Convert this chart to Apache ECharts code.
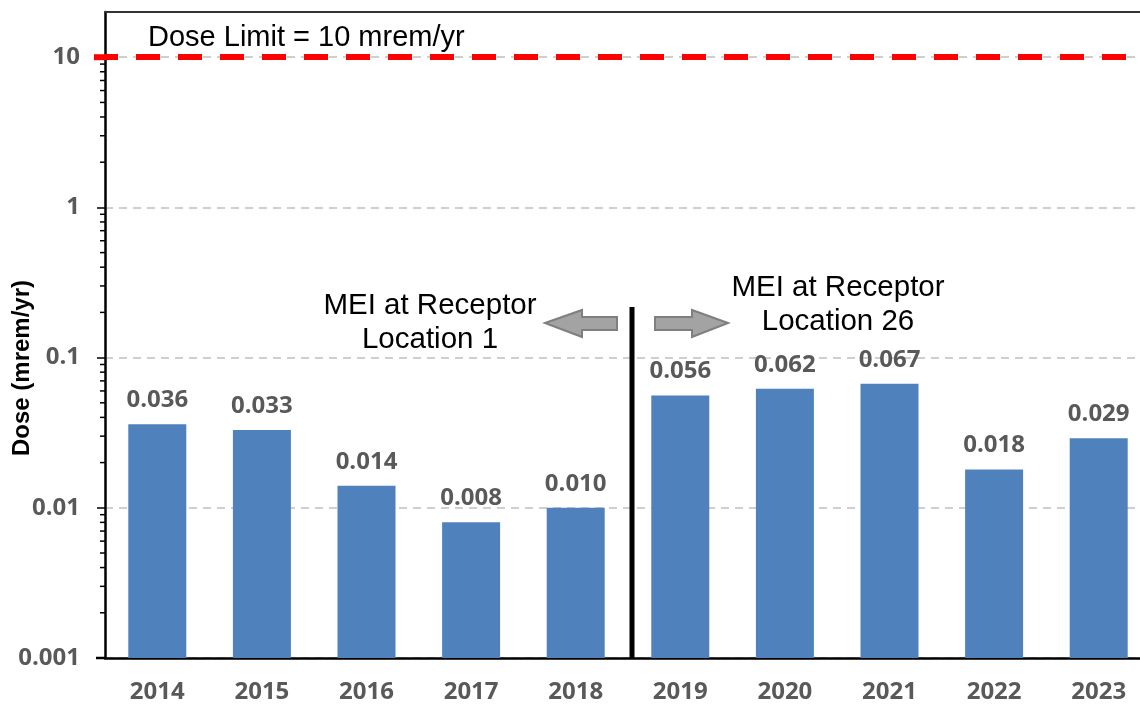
<!DOCTYPE html>
<html>
<head>
<meta charset="utf-8">
<script src="https://cdn.jsdelivr.net/npm/echarts@6/dist/echarts.min.js"></script>
<style>
  html, body { margin: 0; padding: 0; background: #fff; }
  #chart { width: 1140px; height: 704px; }
</style>
</head>
<body>
<div id="chart"></div>
<script>
// data
var years = ['2014', '2015', '2016', '2017', '2018', '2019', '2020', '2021', '2022', '2023']
var dose = [0.036, 0.033, 0.014, 0.008, 0.010, 0.056, 0.062, 0.067, 0.018, 0.029]
var yTickLabels = ['0.001', '0.01', '0.1', '1', '10']
var doseLimit = 10

// log minor ticks 2..9 in each decade
var decades = [0.001, 0.01, 0.1, 1]
var minorMult = [2, 3, 4, 5, 6, 7, 8, 9]
var minorTicks = []
decades.forEach(function (d) {
  minorMult.forEach(function (m) { minorTicks.push([0, +(d * m).toPrecision(3)]) })
})

var grey = '#595959'
var tickFont = 'Open Sans'

var chart = echarts.init(document.getElementById('chart'))

var option = {
  animation: false,
  grid: {
    left: 105, right: -11, top: 12, bottom: 46,
    containLabel: false,
    outerBoundsMode: 'none'
  },
  xAxis: [{
    type: 'category',
    data: years,
    axisLine: { show: true, lineStyle: { color: '#000', width: 2.5 } },
    axisTick: { show: false },
    axisLabel: {
      interval: 0, margin: 22,
      color: grey, fontFamily: tickFont, fontWeight: 'bold', fontSize: 24
    }
  }, {
    type: 'category',
    data: years,
    position: 'top',
    axisLine: { show: true, lineStyle: { color: '#333', width: 2 } },
    axisTick: { show: false },
    axisLabel: { show: false }
  }],
  yAxis: {
    type: 'log',
    logBase: 10,
    min: 0.001,
    max: 20,
    startValue: 0.001,
    axisLine: { show: true, lineStyle: { color: '#000', width: 2.5 } },
    axisTick: { show: true, inside: false, length: 8, lineStyle: { color: '#000', width: 1.5 } },
    axisLabel: {
      margin: 25,
      color: grey, fontFamily: tickFont, fontWeight: 'bold', fontSize: 24,
      showMaxLabel: false,
      formatter: function (v) {
        var l = Math.log10(v)
        var r = Math.round(l)
        if (Math.abs(l - r) > 1e-6) return ''
        return yTickLabels[r + 3] || ''
      }
    },
    splitLine: { show: true, lineStyle: { color: '#c0c0c0', width: 1.5, type: [8, 6] } }
  },
  series: [{
    type: 'bar',
    data: dose,
    barWidth: 58,
    itemStyle: { color: '#4f81bd' },
    label: {
      show: true,
      position: 'top',
      distance: 12,
      color: grey, fontFamily: tickFont, fontWeight: 'bold', fontSize: 24,
      formatter: function (p) { return p.value.toFixed(3) }
    },
    markLine: {
      silent: true,
      symbol: 'none',
      label: { show: false },
      lineStyle: { color: '#ff0000', width: 6, type: [24, 18], dashOffset: 11 },
      data: [{ yAxis: doseLimit }],
      z: 10
    }
  }, {
    type: 'custom',
    data: minorTicks,
    silent: true,
    clip: false,
    z: 5,
    renderItem: function (params, api) {
      var p = api.coord([api.value(0), api.value(1)])
      var x0 = params.coordSys.x
      return {
        type: 'line',
        shape: { x1: x0 - 5, y1: p[1], x2: x0, y2: p[1] },
        style: { stroke: '#000', lineWidth: 1.5 }
      }
    }
  }]
}

chart.setOption(option)

// annotations: divider between receptor periods, arrows and texts
var gridLeft = 105
var xa = chart.convertToPixel({ xAxisIndex: 0 }, 4)
var xb = chart.convertToPixel({ xAxisIndex: 0 }, 5)
var divX = (xa + xb) / 2 + 4
var yBottom = chart.convertToPixel({ yAxisIndex: 0 }, 0.001)
var yLim = chart.convertToPixel({ yAxisIndex: 0 }, doseLimit)

var arrowStyle = { fill: '#a3a3a3', stroke: '#7f7f7f', lineWidth: 2 }
var annFont = '29.5px "Liberation Sans", Arial, sans-serif'

chart.setOption({
  graphic: [{
    // x axis line runs a little past the y axis, as does the limit line
    type: 'line',
    shape: { x1: gridLeft - 9, y1: yBottom, x2: gridLeft, y2: yBottom },
    style: { stroke: '#000', lineWidth: 2.5 },
    z: 20
  }, {
    type: 'line',
    shape: { x1: gridLeft - 11, y1: yLim, x2: gridLeft, y2: yLim },
    style: { stroke: '#ff0000', lineWidth: 6 },
    z: 20
  }, {
    type: 'line',
    shape: { x1: divX, y1: 307, x2: divX, y2: yBottom },
    style: { stroke: '#000', lineWidth: 5 },
    z: 20
  }, {
    type: 'polygon',
    shape: { points: [[545, 323], [582, 310], [582, 317], [617, 317], [617, 330], [582, 330], [582, 337]] },
    style: arrowStyle,
    z: 20
  }, {
    type: 'polygon',
    shape: { points: [[728, 323], [692, 310], [692, 317], [655, 317], [655, 330], [692, 330], [692, 337]] },
    style: arrowStyle,
    z: 20
  }, {
    type: 'text',
    x: 430, y: 323,
    style: {
      text: 'MEI at Receptor\nLocation 1',
      font: annFont, fill: '#000',
      align: 'center', verticalAlign: 'middle', lineHeight: 34
    },
    z: 20
  }, {
    type: 'text',
    x: 838, y: 305,
    style: {
      text: 'MEI at Receptor\nLocation 26',
      font: annFont, fill: '#000',
      align: 'center', verticalAlign: 'middle', lineHeight: 34
    },
    z: 20
  }, {
    type: 'text',
    x: 148, y: yLim - 19,
    style: {
      text: 'Dose Limit = 10 mrem/yr',
      font: '29px "Liberation Sans", Arial, sans-serif', fill: '#000',
      align: 'left', verticalAlign: 'middle'
    },
    z: 20
  }, {
    type: 'text',
    x: 22, y: 368,
    rotation: Math.PI / 2,
    style: {
      text: 'Dose (mrem/yr)',
      font: 'bold 24px "Liberation Sans", Arial, sans-serif', fill: '#000',
      align: 'center', verticalAlign: 'middle'
    },
    z: 20
  }]
})
</script>
</body>
</html>
